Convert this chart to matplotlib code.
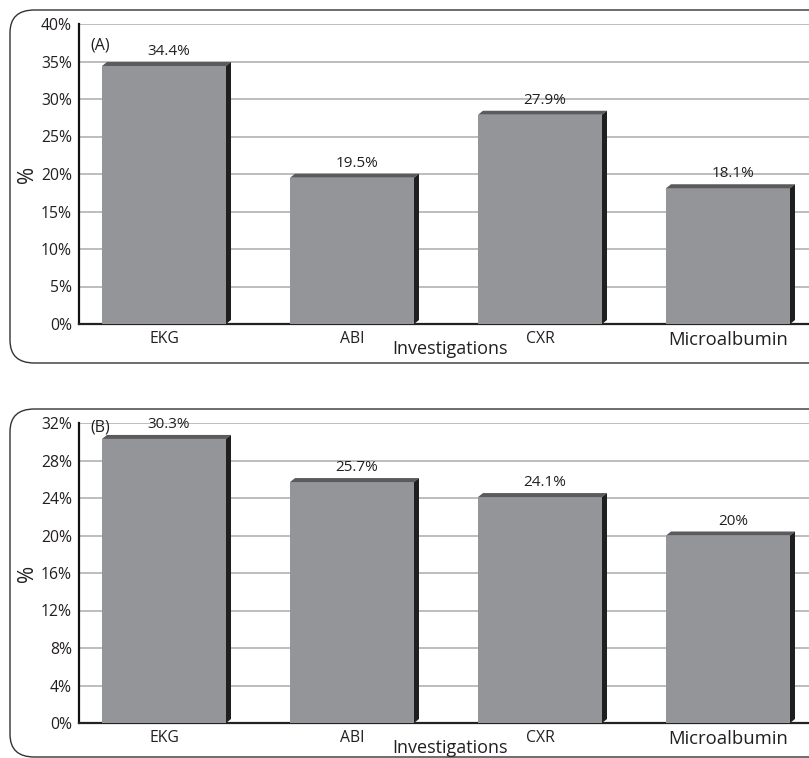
import matplotlib
matplotlib.use("Agg")
import matplotlib.pyplot as plt
from matplotlib.patches import Polygon, FancyBboxPatch

plt.rcParams['font.family'] = ['Open Sans', 'DejaVu Sans']

categories = ["EKG", "ABI", "CXR", "Microalbumin"]
values_a = [34.4, 19.5, 27.9, 18.1]
labels_a = ["34.4%", "19.5%", "27.9%", "18.1%"]
values_b = [30.3, 25.7, 24.1, 20.0]
labels_b = ["30.3%", "25.7%", "24.1%", "20%"]
ticks_a = [0, 5, 10, 15, 20, 25, 30, 35, 40]
ticks_b = [0, 4, 8, 12, 16, 20, 24, 28, 32]

W, H = 809, 758
fig = plt.figure(figsize=(W / 100, H / 100), dpi=100)

FRONT = "#939598"
TOP = "#5b5b5d"
SIDE = "#1f1f1f"
INK = "#231f20"


def add_panel(box_top, box_bottom, ax_top, ax_bottom, values, labels, ticks, tag):
    # rounded frame around the panel
    frame = FancyBboxPatch((10 / W, (H - box_bottom) / H),
                           (W + 40) / W, (box_bottom - box_top) / H,
                           boxstyle="round,pad=0,rounding_size=0.03",
                           transform=fig.transFigure, facecolor="none",
                           edgecolor="#333333", linewidth=1.0, zorder=0)
    fig.patches.append(frame)

    left_px, right_px = 79, W
    ax = fig.add_axes([left_px / W, (H - ax_bottom) / H,
                       (right_px - left_px) / W, (ax_bottom - ax_top) / H])
    cat_px = 188.0
    x0 = -(164 - left_px) / cat_px
    ax.set_xlim(x0, x0 + (right_px - left_px) / cat_px)
    ymax = ticks[-1]
    ax.set_ylim(0, ymax)
    px_per_unit = (ax_bottom - ax_top) / ymax

    xs = list(range(len(categories)))
    width = 124 / cat_px
    dx = 5 / cat_px
    dy = 4 / px_per_unit

    ax.set_yticks(ticks)
    ax.set_yticklabels([f"{t}%" for t in ticks], fontsize=11.3, color=INK)
    ax.yaxis.grid(True, color="#b8b8b8", linewidth=1.3)
    ax.set_axisbelow(True)
    ax.tick_params(axis="y", length=0, pad=5)
    ax.tick_params(axis="x", length=0, pad=5)
    for s in ["top", "right"]:
        ax.spines[s].set_visible(False)
    ax.spines["left"].set_linewidth(1.6)
    ax.spines["bottom"].set_linewidth(1.6)
    ax.spines["left"].set_color("#111111")
    ax.spines["bottom"].set_color("#222222")

    ax.bar(xs, values, width=width, color=FRONT, zorder=3)
    for x, v, lab in zip(xs, values, labels):
        l, r = x - width / 2, x + width / 2
        ax.add_patch(Polygon([(l, v), (l + dx, v + dy), (r + dx, v + dy), (r, v)],
                             closed=True, facecolor=TOP, edgecolor="none", zorder=3))
        ax.add_patch(Polygon([(r, 0), (r, v), (r + dx, v + dy), (r + dx, dy)],
                             closed=True, facecolor=SIDE, edgecolor="none", zorder=3))
        ax.annotate(lab, (x + dx, v + dy), xytext=(0, 2), textcoords="offset points",
                    ha="center", va="bottom", fontsize=11, color=INK, zorder=4)

    ax.set_xticks(xs)
    ax.set_xticklabels(categories, fontsize=11.3, color=INK)
    ax.get_xticklabels()[-1].set_fontsize(13.3)

    ax.text(0.015, 0.93 if tag == "(A)" else 0.985, tag, transform=ax.transAxes,
            fontsize=11.5, color=INK, ha="left", va="center")

    mid = (ax_top + ax_bottom) / 2
    fig.text(28 / W, (H - mid) / H, "%", rotation=90, fontsize=15,
             ha="center", va="center", color=INK)
    fig.text(450 / W, (H - (ax_bottom + 25)) / H, "Investigations", fontsize=13,
             ha="center", va="center", color=INK)
    return ax


add_panel(10, 363, 24, 324, values_a, labels_a, ticks_a, "(A)")
add_panel(409, 757, 423, 723, values_b, labels_b, ticks_b, "(B)")

fig.savefig("out.png", dpi=100)
